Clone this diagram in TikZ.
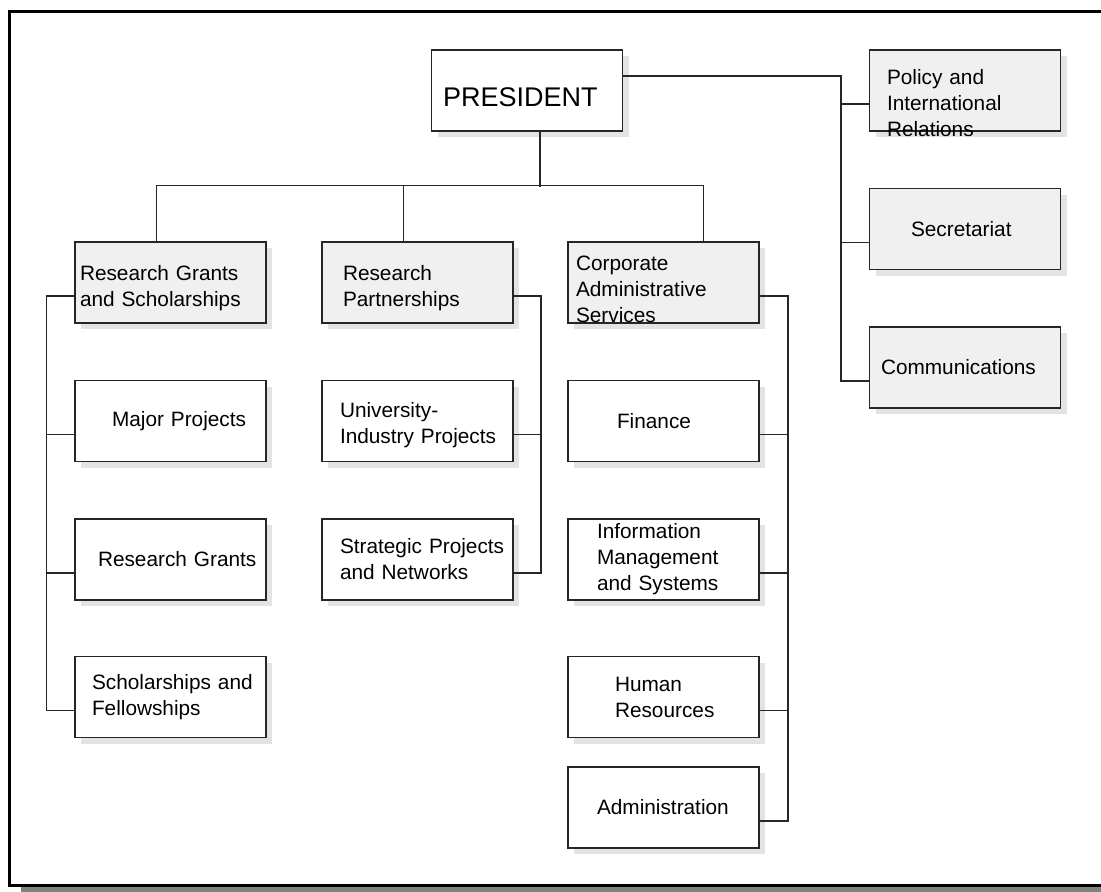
\documentclass[tikz,border=0pt]{standalone}
\usepackage{fontspec}
\setmainfont{Liberation Sans}
\usetikzlibrary{positioning,shadows}

\begin{document}
\begin{tikzpicture}[
    x=1pt, y=-1pt,
    unit/.style={draw=black!85, line width=1.5pt, fill=white, minimum width=191pt, minimum height=81pt, inner sep=0pt, align=left, font=\fontsize{20.8}{26}\selectfont, drop shadow={shadow xshift=6pt, shadow yshift=-6pt, fill=black!11, opacity=1}},
    head/.style={unit, fill=black!6},
    link/.style={line width=1.5pt, draw=black!85},
    node distance=56pt
]
\useasboundingbox (0,0) rectangle (1101,892);
% frame
\fill[black!50] (21,20) rectangle (1130,900);
\draw[line width=3.5pt, fill=white] (9.5,11.5) rectangle (1120,885.5);

\node[unit, text width=168pt, text height=32pt, font=\fontsize{27}{32}\selectfont] (pres) at (527,90.5) {PRESIDENT};
\node[head, text width=156pt, text height=34pt, text depth=46pt] (pol) at (965,90.5) {Policy and\\International\\Relations};
\node[head, text width=108pt, below=56pt of pol] (sec) {Secretariat};
\node[head, text width=168pt, below=56pt of sec] (com) {Communications};

\node[head, text width=181pt, text height=27pt] (rgs) at (170.5,282.5) {Research Grants\\and Scholarships};
\node[head, text width=149pt, text height=27pt] (rp) at (417.5,282.5) {Research\\Partnerships};
\node[head, text width=175pt, text height=27pt, text depth=52pt] (cas) at (663.5,282.5) {Corporate\\Administrative\\Services};

\node[unit, text width=117pt, below=56pt of rgs] (mp) {Major~Projects};
\node[unit, text width=145pt, below=56pt of mp] (rgr) {Research~Grants};
\node[unit, text width=157pt, below=55pt of rgr] (sf) {Scholarships~and\\Fellowships};

\node[unit, text width=155pt, text height=23pt, below=56pt of rp] (uip) {University-\\Industry~Projects};
\node[unit, text width=155pt, below=56pt of uip] (spn) {Strategic~Projects\\and Networks};

\node[unit, text width=93pt, below=56pt of cas] (fin) {Finance};
\node[unit, text width=133pt, below=56pt of fin] (ims) {Information\\Management\\and Systems};
\node[unit, text width=97pt, below=55pt of ims] (hr) {Human\\Resources};
\node[unit, text width=133pt, below=28pt of hr] (adm) {Administration};

% president to departments
\draw[link] ([xshift=13pt]pres.south) -- ++(0,55);
\draw[link] ([xshift=-14pt]rgs.north) -- ++(0,-56) -| ([xshift=40pt]cas.north);
\draw[link] ([xshift=-14pt]rp.north) -- ++(0,-56);
% president to offices
\draw[link] ([yshift=14.5pt]pres.east) -| ([xshift=-28pt,yshift=-13.5pt]com.west) -- ([yshift=-13.5pt]com.west);
\foreach \u in {pol,sec} \draw[link] ([yshift=-13.5pt]\u.west) -- ++(-28,0);
% branches
\draw[link] ([yshift=-13.5pt]rgs.west) -- ++(-28,0) |- ([yshift=-13.5pt]sf.west);
\foreach \u in {mp,rgr} \draw[link] ([yshift=-13.5pt]\u.west) -- ++(-28,0);
\draw[link] ([yshift=-13.5pt]rp.east) -- ++(27,0) |- ([yshift=-13.5pt]spn.east);
\draw[link] ([yshift=-13.5pt]uip.east) -- ++(27,0);
\draw[link] ([yshift=-13.5pt]cas.east) -- ++(28,0) |- ([yshift=-13.5pt]adm.east);
\foreach \u in {fin,ims,hr} \draw[link] ([yshift=-13.5pt]\u.east) -- ++(28,0);
\end{tikzpicture}
\end{document}
